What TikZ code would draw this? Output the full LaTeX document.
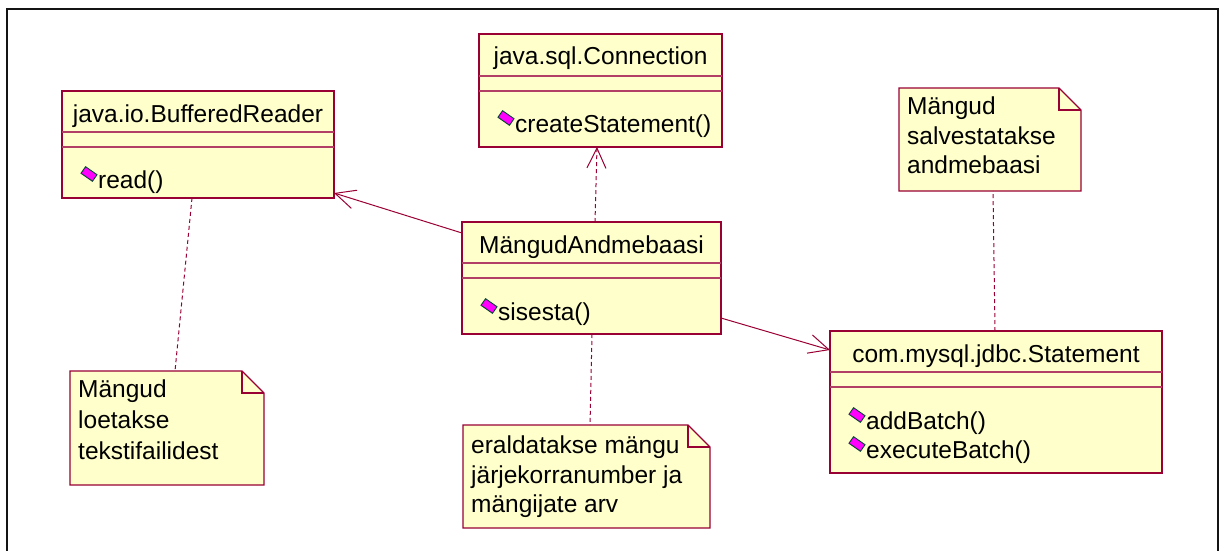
\documentclass[tikz,border=0pt]{standalone}
\usepackage{fontspec}
\setmainfont{Liberation Sans}
\usetikzlibrary{arrows.meta,calc}
\definecolor{umlline}{RGB}{153,0,51}
\definecolor{umlfill}{RGB}{255,255,204}
\definecolor{opmag}{RGB}{255,0,255}
\definecolor{opedge}{RGB}{0,70,50}
\definecolor{framecol}{RGB}{20,20,20}

\tikzset{
  classbox/.style={draw=umlline, fill=umlfill, line width=1.1pt, rectangle,
    inner sep=0pt, outer sep=0pt, anchor=north west},
  notebox/.style={rectangle, inner sep=0pt, outer sep=0pt, anchor=north west},
  noteline/.style={draw=umlline, fill=umlfill, line width=1.1pt, line join=miter},
  sepline/.style={draw=umlline!75, line width=1.1pt},
  ttl/.style={font=\fontsize{24.5}{30}\selectfont, inner sep=0pt, anchor=base, text=black},
  mtxt/.style={font=\fontsize{24.5}{30}\selectfont, inner sep=0pt, anchor=base west, text=black},
  opicon/.style={rectangle, fill=opmag, draw=opedge, line width=0.9pt,
    minimum width=14pt, minimum height=8pt, inner sep=0pt, rotate=-35},
  assoc/.style={draw=umlline, line width=1pt, -{Straight Barb[length=20pt,width=19pt]}},
  depend/.style={assoc, dash pattern=on 4pt off 3pt},
  notelink/.style={draw=umlline, line width=1pt, dash pattern=on 4pt off 3pt},
}

\begin{document}
\begin{tikzpicture}[x=1pt,y=-1pt]
\useasboundingbox (0,0) rectangle (1220,551);

% outer frame
\draw[framecol, line width=2pt] (7,551) -- (7,9) -- (1218,9) -- (1218,551);

% ---------- classes ----------
\node[classbox, minimum width=272pt, minimum height=107pt] (br) at (62,91) {};
\draw[sepline] ($(br.north west)+(0,41)$) -- ($(br.north east)+(0,41)$);
\draw[sepline] ($(br.north west)+(0,56)$) -- ($(br.north east)+(0,56)$);
\node[ttl] (brT) at (198,122) {java.io.BufferedReader};
\node[opicon] (brI) at (89,174) {};
\node[mtxt] (brM) at (98,188) {read()};

\node[classbox, minimum width=243pt, minimum height=113pt] (conn) at (479,34) {};
\draw[sepline] ($(conn.north west)+(0,42)$) -- ($(conn.north east)+(0,42)$);
\draw[sepline] ($(conn.north west)+(0,57)$) -- ($(conn.north east)+(0,57)$);
\node[ttl] (connT) at (600.5,65) {java.sql.Connection};
\node[opicon] (connI) at (506,118) {};
\node[mtxt] (connM) at (515,132) {createStatement()};

\node[classbox, minimum width=259pt, minimum height=112pt] (mang) at (462,222) {};
\draw[sepline] ($(mang.north west)+(0,41)$) -- ($(mang.north east)+(0,41)$);
\draw[sepline] ($(mang.north west)+(0,56)$) -- ($(mang.north east)+(0,56)$);
\node[ttl] (mangT) at (591.5,253) {MängudAndmebaasi};
\node[opicon] (mangI) at (489,306) {};
\node[mtxt] (mangM) at (498,320) {sisesta()};

\node[classbox, minimum width=332pt, minimum height=142pt] (stmt) at (830,331) {};
\draw[sepline] ($(stmt.north west)+(0,41)$) -- ($(stmt.north east)+(0,41)$);
\draw[sepline] ($(stmt.north west)+(0,56)$) -- ($(stmt.north east)+(0,56)$);
\node[ttl] (stmtT) at (996,362) {com.mysql.jdbc.Statement};
\node[opicon] (stmtI1) at (857,415) {};
\node[mtxt] (stmtM1) at (866,429) {addBatch()};
\node[opicon] (stmtI2) at (857,444) {};
\node[mtxt] (stmtM2) at (866,458) {executeBatch()};

% ---------- notes ----------
\node[notebox, minimum width=194pt, minimum height=114pt] (loe) at (70,371) {};
\path[noteline] (loe.north west) -- ($(loe.north east)+(-22,0)$) -- ($(loe.north east)+(0,22)$)
  -- (loe.south east) -- (loe.south west) -- cycle;
\draw[noteline, fill=none] ($(loe.north east)+(-22,0)$) -- ($(loe.north east)+(-22,22)$) -- ($(loe.north east)+(0,22)$);
\node[mtxt] (loe1) at (78,397) {Mängud};
\node[mtxt] (loe2) at (78,428) {loetakse};
\node[mtxt] (loe3) at (78,459) {tekstifailidest};

\node[notebox, minimum width=247pt, minimum height=103pt] (eral) at (463,425) {};
\path[noteline] (eral.north west) -- ($(eral.north east)+(-22,0)$) -- ($(eral.north east)+(0,22)$)
  -- (eral.south east) -- (eral.south west) -- cycle;
\draw[noteline, fill=none] ($(eral.north east)+(-22,0)$) -- ($(eral.north east)+(-22,22)$) -- ($(eral.north east)+(0,22)$);
\node[mtxt] (eral1) at (471,453) {eraldatakse mängu};
\node[mtxt] (eral2) at (471,483) {järjekorranumber ja};
\node[mtxt] (eral3) at (471,512) {mängijate arv};

\node[notebox, minimum width=182pt, minimum height=103pt] (salv) at (899,88) {};
\path[noteline] (salv.north west) -- ($(salv.north east)+(-22,0)$) -- ($(salv.north east)+(0,22)$)
  -- (salv.south east) -- (salv.south west) -- cycle;
\draw[noteline, fill=none] ($(salv.north east)+(-22,0)$) -- ($(salv.north east)+(-22,22)$) -- ($(salv.north east)+(0,22)$);
\node[mtxt] (salv1) at (907,114) {Mängud};
\node[mtxt] (salv2) at (907,144) {salvestatakse};
\node[mtxt] (salv3) at (907,173) {andmebaasi};

% ---------- connectors ----------
\draw[assoc] ($(mang.north west)+(0,11)$) -- ($(br.south east)+(0,-5)$);
\draw[depend] ($(mang.north west)+(133,0)$) -- ($(conn.south west)+(118,0)$);
\draw[assoc] ($(mang.north east)+(0,96)$) -- ($(stmt.north west)+(0,19)$);

\draw[notelink] ($(br.south west)+(130,0)$) -- ($(loe.north west)+(105,0)$);
\draw[notelink] ($(mang.south west)+(130,0)$) -- ($(eral.north west)+(127,0)$);
\draw[notelink] ($(stmt.north west)+(165,0)$) -- ($(salv.south west)+(94,0)$);
\end{tikzpicture}
\end{document}
